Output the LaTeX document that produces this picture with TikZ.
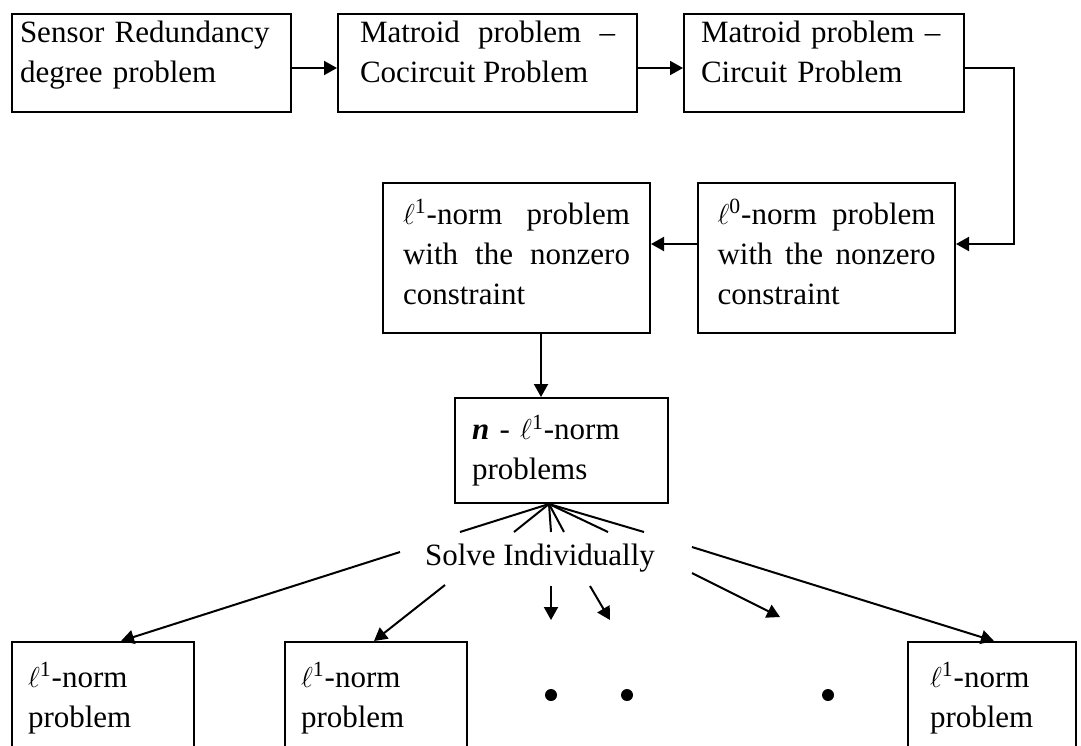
\documentclass[tikz,border=0pt]{standalone}
\usepackage{fontspec}
\setmainfont{Liberation Serif}
\usetikzlibrary{arrows.meta,calc}
\newcommand\lowstrut[1]{\rule[-#1]{0pt}{#1}}
\begin{document}
\begin{tikzpicture}[x=0.5pt,y=-0.5pt,
  font=\fontsize{15.5}{20}\selectfont,
  box/.style={draw,line width=1pt,inner xsep=0pt,inner ysep=0pt},
  arr/.style={line width=1pt,-{Triangle[length=6.5pt,width=7pt]}},
  ln/.style={line width=1pt},
  dot/.style={circle,fill,inner sep=0pt,minimum size=6pt}]
\useasboundingbox (0,0) rectangle (1081,745);
\clip (0,0) rectangle (1081,745);
% top row
\node[box,minimum width=139.5pt,minimum height=49pt,text width=131.5pt,align=left] (b1) at (151.5,63) {Sensor Redundancy\\degree problem\lowstrut{11.5pt}};
\node[box,minimum width=149.5pt,minimum height=49pt,text width=127.5pt,align=justify] (b2) at (487.5,63) {Matroid problem --\linebreak Cocircuit Problem\lowstrut{11.5pt}};
\node[box,minimum width=140pt,minimum height=49pt,text width=123pt,align=left] (b3) at (824,63) {Matroid problem --\\Circuit Problem\lowstrut{11.5pt}};
% middle row
\node[box,minimum width=128.5pt,minimum height=75pt,text width=109pt,align=justify] (l0) at (826.5,258) {$\ell$\textsuperscript{0}-norm problem\linebreak with the nonzero\linebreak constraint\lowstrut{6pt}};
\node[box,minimum width=133.5pt,minimum height=75pt,text width=113.5pt,align=justify] (l1) at (516.5,258) {$\ell$\textsuperscript{1}-norm problem\linebreak with the nonzero\linebreak constraint\lowstrut{6pt}};
\node[box,minimum width=106.5pt,minimum height=52.5pt,text width=89.5pt,align=left] (n) at (561.5,450.5) {\textbf{\textit{n}} - $\ell$\textsuperscript{1}-norm\\problems};
\node (solve) at (540,558) {Solve Individually};
% bottom row
\node[box,minimum width=91pt,minimum height=56pt,text width=75pt,align=left] (pa) at (103,698) {$\ell$\textsuperscript{1}-norm\\problem};
\node[box,minimum width=91pt,minimum height=56pt,text width=75pt,align=left] (pb) at (376,698) {$\ell$\textsuperscript{1}-norm\\problem};
\node[box,minimum width=84pt,minimum height=56pt,text width=62pt,align=left] (pc) at (992,698) {$\ell$\textsuperscript{1}-norm\\problem};
\node[dot] (d1) at (551,695) {};
\node[dot] (d2) at (627,695) {};
\node[dot] (d3) at (828,695) {};
% connectors
\draw[arr] ($(b1.east)+(0,5)$) -- ($(b2.west)+(0,5)$);
\draw[arr] ($(b2.east)+(0,5)$) -- ($(b3.west)+(0,5)$);
\draw[arr] ($(b3.east)+(0,5)$) -- ++(49,0) |- ($(l0.east)+(0,-14)$);
\draw[arr] ($(l0.west)+(0,-14)$) -- ($(l1.east)+(0,-14)$);
\coordinate (p) at ($(l1.south)+(24.5,0)$);
\draw[arr] (p) -- (p |- n.north);
% fan
\coordinate (o) at ($(n.south west)+(95,0)$);
\coordinate (f1) at (460,532);
\coordinate (f2) at (514,532);
\coordinate (f3) at (551,532);
\coordinate (f4) at (564,532);
\coordinate (f5) at (608,532);
\coordinate (f6) at (644,532);
\foreach \f in {f1,f2,f3,f4,f5,f6} \draw[ln] (o) -- (\f);
\coordinate (s1) at (400,552);
\coordinate (s2) at (445,585);
\coordinate (s3) at (551,586);
\coordinate (s4) at (590,586);
\coordinate (s5) at (692,573);
\coordinate (s6) at (692,547);
\coordinate (e3) at (551,620);
\coordinate (e4) at (610,620);
\coordinate (e5) at (780,617);
\draw[arr] (s1) -- ($(pa.north west)+(110,0)$);
\draw[arr] (s2) -- ($(pb.north west)+(90,0)$);
\draw[arr] (s3) -- (e3);
\draw[arr] (s4) -- (e4);
\draw[arr] (s5) -- (e5);
\draw[arr] (s6) -- ($(pc.north west)+(87,0)$);
\end{tikzpicture}
\end{document}
